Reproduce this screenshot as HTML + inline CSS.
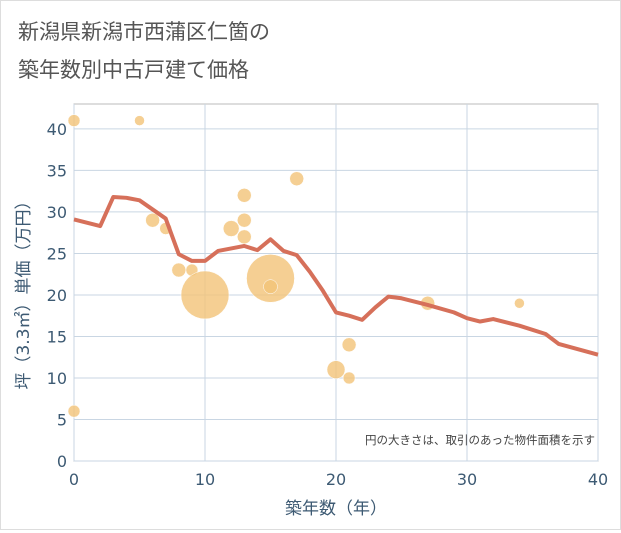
<!DOCTYPE html>
<html><head><meta charset="utf-8"><style>
body{margin:0;background:#fff;font-family:"DejaVu Sans","Noto Sans CJK JP",sans-serif;}
#wrap{position:relative;width:619px;height:528px;border:1px solid #ddd;}
</style></head><body>
<div id="wrap">
<svg id="svg" width="619" height="528" xmlns="http://www.w3.org/2000/svg" font-family="DejaVu Sans,Noto Sans CJK JP,sans-serif">
<text x="17" y="38" font-size="21" fill="#555">新潟県新潟市西蒲区仁箇の</text>
<text x="17" y="76" font-size="21" fill="#555">築年数別中古戸建て価格</text>
<g id="grid"></g><g id="bubbles"></g><g id="line"></g><g id="axes"></g>
<text x="594" y="443" font-size="11.5" fill="#444" text-anchor="end">円の大きさは、取引のあった物件面積を示す</text>
<text x="335" y="513" font-size="17" fill="#3d5a73" text-anchor="middle">築年数（年）</text>
<text transform="translate(28,290) rotate(-90)" font-size="17" fill="#3d5a73" text-anchor="middle">坪（3.3㎡）単価（万円）</text>
</svg></div>
<script>
const xTicks=[0,10,20,30,40];
const yTicks=[0,5,10,15,20,25,30,35,40];
const lineYears=[0,2,3,4,5,7,8,9,10,11,12,13,14,15,16,17,18,19,20,21,22,23,24,25,27,29,30,31,32,34,36,37,40];
const linePrices=[29.1,28.3,31.8,31.7,31.4,29.2,24.9,24.1,24.1,25.3,25.6,25.9,25.4,26.7,25.3,24.8,22.8,20.5,17.9,17.5,17.0,18.5,19.8,19.6,18.8,17.9,17.2,16.8,17.1,16.3,15.3,14.1,12.8];
const bubbleYears=[0,5,6,7,8,9,10,12,13,13,13,15,15,17,20,21,21,27,34,0];
const bubblePrices=[41,41,29,28,23,23,20,28,32,29,27,22,21,34,11,14,10,19,19,6];
const bubbleSizes=[6,5,7,6,7,6,24,8,7,7,7,24,7,7,9,7,6,7,5,6];
const L=73,R=597,T=103,B=460;
const xs=v=>L+(R-L)*v/40, ys=v=>B-(B-T)*v/43;
const NS="http://www.w3.org/2000/svg";
function mk(t,a,p){const e=document.createElementNS(NS,t);for(const k in a)e.setAttribute(k,a[k]);document.getElementById(p).appendChild(e);return e;}
mk('rect',{x:L,y:T,width:R-L,height:B-T,fill:'none',stroke:'#bbb'},'grid');
xTicks.forEach(v=>{const e=mk('line',{x1:xs(v),x2:xs(v),y1:T,y2:B,stroke:'#c9d6e3'},'grid');

const t=mk('text',{x:xs(v),y:B+24,'font-size':16,fill:'#3d5a73','text-anchor':'middle'},'axes');t.textContent=v;
});
yTicks.forEach(v=>{const e=mk('line',{x1:L,x2:R,y1:ys(v),y2:ys(v),stroke:'#c9d6e3'},'grid');

const t=mk('text',{x:L-7,y:ys(v)+6,'font-size':16,fill:'#3d5a73','text-anchor':'end'},'axes');t.textContent=v;
});
bubbleYears.forEach((y,i)=>{const c=mk('circle',{cx:xs(y),cy:ys(bubblePrices[i]),r:bubbleSizes[i],fill:'#f2c378','fill-opacity':0.8,stroke:'#fff','stroke-width':0.5},'bubbles');
});
const p=mk('polyline',{points:lineYears.map((y,i)=>xs(y)+','+ys(linePrices[i])).join(' '),fill:'none',stroke:'#d6705a','stroke-width':4,'stroke-linejoin':'round'},'line');

</script></body></html>
